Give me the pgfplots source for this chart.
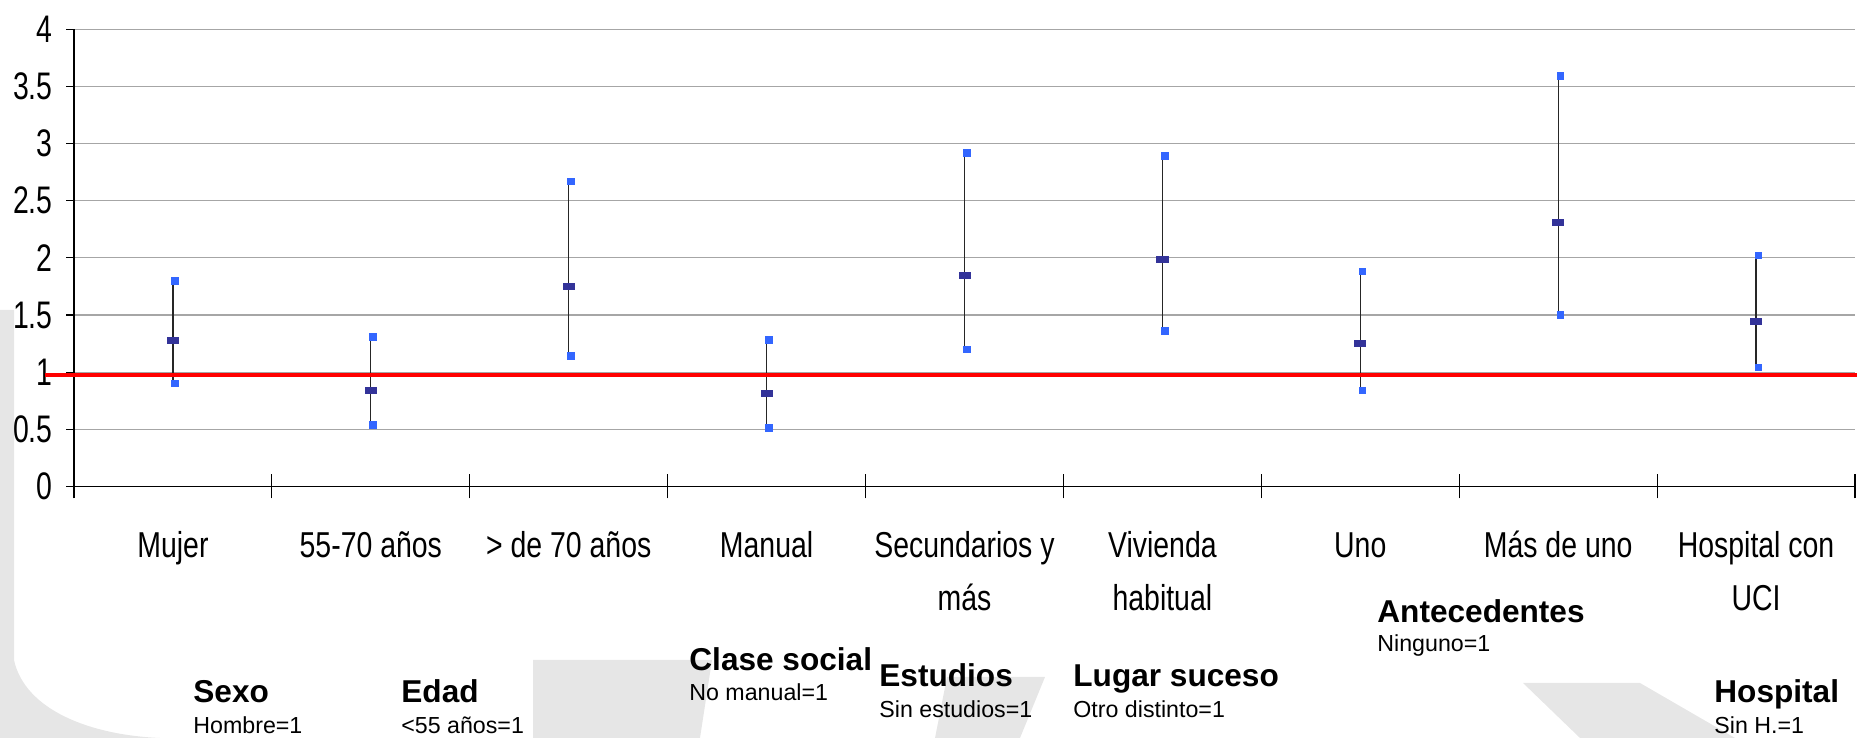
\documentclass[border=0pt]{standalone}
\usepackage{fontspec}
\setmainfont{Liberation Sans}
\newfontfamily\narrowfont{Liberation Sans}[FakeStretch=0.79]
\newfontfamily\tickfont{Liberation Sans}[FakeStretch=0.74]
\usepackage{pgfplots}
\usepackage{pgfplotstable}
\pgfplotsset{compat=1.18}
\definecolor{midc}{HTML}{333399}
\definecolor{endc}{HTML}{3366FF}
\definecolor{wm}{HTML}{E6E6E6}
\definecolor{gridc}{HTML}{A6A6A6}

\pgfplotstableread{
x   lo   mid  hi
0.5 0.90 1.28 1.80
1.5 0.54 0.84 1.31
2.5 1.14 1.75 2.67
3.5 0.51 0.81 1.28
4.5 1.20 1.85 2.92
5.5 1.36 1.99 2.89
6.5 0.84 1.25 1.88
7.5 1.50 2.31 3.59
8.5 1.04 1.44 2.02
}\data

\begin{document}
\begin{tikzpicture}
\useasboundingbox (0,0) rectangle (928.5pt,369pt);
% light grey watermark shapes
\begin{scope}[x=0.5pt,y=-0.5pt,yshift=369pt]
  \fill[wm] (0,310) -- (14,310) -- (14,660) .. controls (25,710) and (90,735) .. (160,738) -- (0,738) -- cycle;
  \fill[wm] (533,660) -- (712,660) -- (700,738) -- (533,738) -- cycle;
  \fill[wm] (947,677) -- (1045,677) -- (1020,738) -- (935,738) -- cycle;
  \fill[wm] (1523,683) -- (1640,683) -- (1735,738) -- (1580,738) -- cycle;
\end{scope}
\begin{axis}[
  at={(37pt,125.8pt)}, anchor=south west,
  width=890.5pt, height=228.55pt, scale only axis,
  xmin=0, xmax=9, ymin=0, ymax=4,
  clip=false,
  axis lines*=left,
  axis line style={line width=0.6pt, black},
  ytick={0,0.5,1,1.5,2,2.5,3,3.5,4},
  ymajorgrids, grid style={gridc, line width=0.6pt},
  tick align=outside, major tick length=4pt,
  tick style={black, line width=0.6pt},
  /pgf/number format/assume math mode=true,
  yticklabel style={font=\tickfont\fontsize{19.2}{21}\selectfont, anchor=east, inner sep=0pt, xshift=-6.5pt},
  xtick={0.5,1.5,2.5,3.5,4.5,5.5,6.5,7.5,8.5},
  xticklabels={{Mujer\\\mbox{}}, {55-70 años\\\mbox{}}, {> de 70 años\\\mbox{}}, {Manual\\\mbox{}}, {Secundarios y\\más}, {Vivienda\\habitual}, {Uno\\\mbox{}}, {Más de uno\\\mbox{}}, {Hospital con\\UCI}},
  xticklabel style={font=\narrowfont\fontsize{18}{26.5}\selectfont, align=center, anchor=base, inner sep=0pt, yshift=-58pt},
  xtick style={draw=none},
  extra x ticks={0,1,2,3,4,5,6,7,8,9},
  extra x tick labels={},
  extra x tick style={xtick style={draw=black, line width=0.6pt}, tick align=center, major tick length=12pt},
]
\addplot[only marks, mark=square*, mark size=1.5pt, mark options={midc, xscale=1.85},
  error bars/.cd, y dir=both, y explicit, error mark=none,
  error bar style={black!85, line width=0.6pt}]
  table[x=x, y=mid, y error plus expr=\thisrow{hi}-\thisrow{mid}, y error minus expr=\thisrow{mid}-\thisrow{lo}] {\data};
\addplot[red, line width=2pt, forget plot] coordinates {(-0.147,0.975) (9.01,0.975)};
\addplot[only marks, mark=square*, mark size=1.65pt, color=endc, mark options={xshift=1.1pt}] table[x=x, y=hi] {\data};
\addplot[only marks, mark=square*, mark size=1.65pt, color=endc, mark options={xshift=1.1pt}] table[x=x, y=lo] {\data};
\end{axis}
\begin{scope}[x=0.5pt,y=-0.5pt,yshift=369pt, bl/.style={anchor=base west, inner sep=0pt, font=\bfseries\fontsize{15.8}{18}\selectfont}, sm/.style={anchor=base west, inner sep=0pt, font=\fontsize{11.6}{13}\selectfont}]
  \node[bl] at (193,703) {Sexo};
  \node[sm] at (193,734) {Hombre=1};
  \node[bl] at (401,703) {Edad};
  \node[sm] at (401,734) {<55 años=1};
  \node[bl] at (689,671) {Clase social};
  \node[sm] at (689,701) {No manual=1};
  \node[bl] at (879,687) {Estudios};
  \node[sm] at (879,718) {Sin estudios=1};
  \node[bl] at (1073,687) {Lugar suceso};
  \node[sm] at (1073,718) {Otro distinto=1};
  \node[bl] at (1377,623) {Antecedentes};
  \node[sm] at (1377,652) {Ninguno=1};
  \node[bl] at (1714,703) {Hospital};
  \node[sm] at (1714,734) {Sin H.=1};
\end{scope}
\end{tikzpicture}
\end{document}
